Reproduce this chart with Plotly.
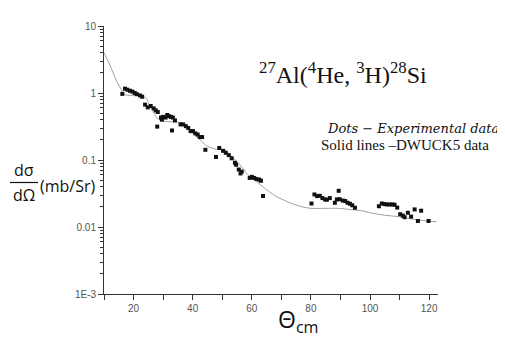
import plotly.graph_objects as go

# Experimental data (dots)
exp_theta = [16.2, 17.1, 17.9, 18.8, 19.6, 20.4, 21.1, 22.2, 22.9, 23.9, 24.8, 25.8,
             26.8, 27.5, 28.2, 28.0, 29.3, 29.6, 30.0, 30.8, 31.4, 32.0, 32.7, 33.3,
             33.0, 34.0, 35.9, 36.8, 37.7, 38.5, 39.3, 40.1, 40.9, 41.7, 42.4, 43.2,
             44.3, 47.9, 49.0, 50.3, 51.2, 52.2, 53.2, 54.3, 54.7, 55.6, 56.6, 56.2,
             59.3, 60.0, 60.8, 61.6, 62.5, 63.1, 63.8,
             80.2, 81.2, 82.1, 83.0, 83.9, 84.8, 85.4, 86.4, 88.1, 88.8, 89.4, 89.7,
             90.8, 91.6, 92.4, 93.2, 94.0, 94.9,
             103.0, 104.0, 104.9, 105.7, 106.6, 107.5, 108.3, 109.2, 110.2, 111.1,
             111.7, 112.8, 113.9, 115.1, 116.2, 117.3, 119.8]
exp_xs = [0.97, 1.16, 1.12, 1.08, 1.05, 1.0, 0.96, 0.92, 0.88, 0.67, 0.61, 0.64,
          0.59, 0.55, 0.52, 0.315, 0.43, 0.40, 0.44, 0.43, 0.47, 0.45, 0.44, 0.43,
          0.276, 0.39, 0.34, 0.34, 0.32, 0.30, 0.27, 0.27, 0.25, 0.24, 0.22, 0.22,
          0.142, 0.111, 0.151, 0.137, 0.128, 0.118, 0.106, 0.091, 0.085, 0.072, 0.067, 0.063,
          0.054, 0.056, 0.054, 0.052, 0.051, 0.049, 0.029,
          0.0224, 0.0306, 0.0289, 0.0292, 0.027, 0.0258, 0.0255, 0.027, 0.023, 0.0258, 0.0347, 0.026,
          0.0248, 0.0244, 0.023, 0.0222, 0.0211, 0.0194,
          0.0204, 0.0224, 0.022, 0.0217, 0.0217, 0.0217, 0.0215, 0.0195, 0.0155, 0.0148,
          0.014, 0.0163, 0.0143, 0.0183, 0.0123, 0.0175, 0.0123]

# DWUCK5 calculation (solid line)
th_theta = [10, 12, 14, 16, 17, 20, 23, 24, 26, 28, 30, 34, 36, 38, 42, 45, 48, 51,
            53, 56, 59, 62, 65, 68, 71, 74, 77, 80, 85, 89, 93, 97, 101, 105, 110,
            115, 120, 122.5]
th_xs = [4.0, 2.6, 1.6, 1.1, 0.95, 0.92, 0.9, 0.85, 0.6, 0.42, 0.38, 0.37, 0.36, 0.3,
         0.21, 0.16, 0.145, 0.14, 0.115, 0.085, 0.058, 0.046, 0.036, 0.029, 0.025,
         0.022, 0.02, 0.019, 0.019, 0.019, 0.0183, 0.0175, 0.016, 0.015, 0.0142,
         0.013, 0.0122, 0.012]

y_tickvals = [1e-3, 1e-2, 1e-1, 1, 10]
y_ticktext = ["1E-3", "0.01", "0.1", "1", "10"]
x_tickvals = [20, 40, 60, 80, 100, 120]

fig = go.Figure()
fig.add_trace(go.Scatter(x=th_theta, y=th_xs, mode="lines",
                         line=dict(color="#a0a0a0", width=1, shape="spline", smoothing=0.8),
                         showlegend=False, hoverinfo="skip"))
fig.add_trace(go.Scatter(x=exp_theta, y=exp_xs, mode="markers",
                         marker=dict(symbol="square", size=4, color="#111111"),
                         showlegend=False))

axis_font = dict(family="Arial, Liberation Sans, sans-serif", size=10, color="#555555")
# page has an 8px body margin; plot area should span x 104..438, y 20..294 in page pixels
fig.update_layout(
    width=497, height=330,
    margin=dict(l=96, r=67, t=12, b=44),
    paper_bgcolor="white", plot_bgcolor="white",
    xaxis=dict(range=[10, 123], tickvals=x_tickvals, ticks="outside", ticklen=5,
               tickcolor="#333333", showline=True, linecolor="#333333", linewidth=1,
               showgrid=False, zeroline=False, tickfont=axis_font,
               minor=dict(ticks="outside", ticklen=5, tickcolor="#333333", dtick=10, tick0=10)),
    yaxis=dict(type="log", range=[-3, 1], tickvals=y_tickvals, ticktext=y_ticktext,
               ticks="outside", ticklen=5, tickcolor="#333333", showline=True,
               linecolor="#333333", linewidth=1, showgrid=False, zeroline=False,
               tickfont=axis_font,
               minor=dict(ticks="outside", ticklen=3, tickcolor="#333333", dtick="D1")),
)

def px(xp):
    return (xp - 104) / 334

def py(yp):
    return (294 - yp) / 274

fig.add_annotation(xref="paper", yref="paper", x=px(257), y=py(68),
                   text="<sup>27</sup>Al(<sup>4</sup>He, <sup>3</sup>H)<sup>28</sup>Si",
                   showarrow=False, xanchor="left", yanchor="middle",
                   font=dict(family="Liberation Serif, serif", size=24, color="#111111"))
fig.add_annotation(xref="paper", yref="paper", x=px(325), y=py(125),
                   text="<i>Dots − Experimental data</i>", showarrow=False,
                   xanchor="left", yanchor="middle",
                   font=dict(family="DejaVu Serif, serif", size=13, color="#111111"))
fig.add_annotation(xref="paper", yref="paper", x=px(319), y=py(142),
                   text="Solid lines –DWUCK5 data", showarrow=False,
                   xanchor="left", yanchor="middle",
                   font=dict(family="Liberation Serif, serif", size=15, color="#111111"))

# y-axis title as fraction
lab_font = dict(family="Open Sans, Liberation Sans, sans-serif", size=16, color="#111111")
fig.add_annotation(xref="paper", yref="paper", x=px(24), y=py(167),
                   text="dσ", showarrow=False, xanchor="center", yanchor="middle", font=lab_font)
fig.add_annotation(xref="paper", yref="paper", x=px(24), y=py(193),
                   text="dΩ", showarrow=False, xanchor="center", yanchor="middle", font=lab_font)
fig.add_annotation(xref="paper", yref="paper", x=px(38), y=py(184),
                   text="(mb/Sr)", showarrow=False, xanchor="left", yanchor="middle", font=lab_font)
fig.add_shape(type="line", xref="paper", yref="paper",
              x0=px(10), x1=px(38), y0=py(180), y1=py(180),
              line=dict(color="#111111", width=1.2))

fig.add_annotation(xref="paper", yref="paper", x=px(276), y=py(321),
                   text="Θ<sub>cm</sub>", showarrow=False, xanchor="left", yanchor="middle",
                   font=dict(family="Open Sans, Liberation Sans, sans-serif", size=23, color="#111111"))

fig.write_html("out.html")
